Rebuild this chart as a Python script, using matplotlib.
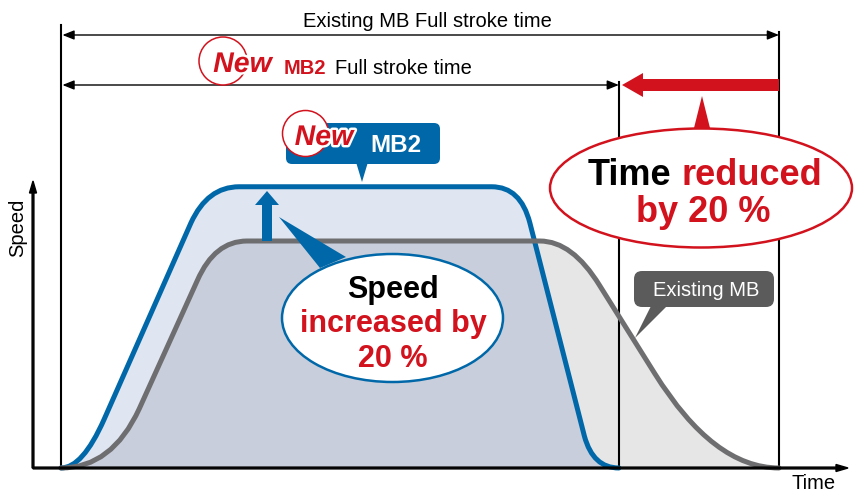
import matplotlib
matplotlib.use('Agg')
import matplotlib.pyplot as plt
import matplotlib.patches as mpatches
import matplotlib.transforms as mtransforms
import matplotlib.patheffects as pe
from matplotlib.path import Path

W, H, DPI = 856, 494, 100

# speed profiles, time in % of the existing full stroke, speed in % of existing max speed
# (vertices of a bezier path)
existing_t = [0, 7.1, 10.9, 19.0, 21.4, 25.9, 66.7, 71.2, 75.0, 82.7, 90.9, 100]
existing_s = [0, 0, 26.1, 82.7, 100, 100, 100, 100, 80.5, 41.6, 0, 0]
mb2_t = [0, 3.0, 6.0, 18.1, 20.4, 24.8, 60.0, 64.0, 65.3, 72.9, 74.1, 77.7]
mb2_s = [0, 0, 21.4, 108.0, 123.9, 123.9, 123.9, 123.9, 108.0, 14.0, 0, 0]
codes = [Path.MOVETO, Path.CURVE3, Path.CURVE3, Path.LINETO, Path.CURVE3, Path.CURVE3,
         Path.LINETO, Path.CURVE3, Path.CURVE3, Path.LINETO, Path.CURVE3, Path.CURVE3]

BLUE = '#0068a8'
RED = '#d2121d'
GREY_LINE = '#6e6e70'
plt.rcParams['font.family'] = ['Liberation Sans', 'DejaVu Sans']

fig = plt.figure(figsize=(W / DPI, H / DPI), dpi=DPI)
ax = fig.add_axes([0, 0, 1, 1])
# origin at pixel (61, 468), 7.18 px per time unit, 2.27 px per speed unit
ax.set_xlim(-61 / 7.18, (W - 61) / 7.18)
ax.set_ylim(-(H - 468) / 2.27, 468 / 2.27)
ax.axis('off')

# pixel coords (top-left origin) for the decorations
pix = mtransforms.Affine2D().scale(1 / DPI, -1 / DPI).translate(0, H / DPI) + fig.dpi_scale_trans
xpix = mtransforms.blended_transform_factory(ax.transData, pix)


def profile(t, s, closed=False):
    verts = list(zip(t, s))
    c = list(codes)
    if closed:
        verts.append(verts[0])
        c.append(Path.CLOSEPOLY)
    return Path(verts, c)


# fills
blue_fill = mpatches.PathPatch(profile(mb2_t, mb2_s, True), fc='#dfe5f1', ec='none', zorder=1)
ax.add_patch(blue_fill)
ax.add_patch(mpatches.PathPatch(profile(existing_t, existing_s, True), fc='#e6e6e6', ec='none', zorder=1.1))
both = mpatches.PathPatch(profile(existing_t, existing_s, True), fc='#c8cedb', ec='none', zorder=1.2)
ax.add_patch(both)
both.set_clip_path(blue_fill)

# curves
ax.add_patch(mpatches.PathPatch(profile(mb2_t, mb2_s), fc='none', ec=BLUE, lw=3.6,
                                capstyle='round', zorder=4))
ax.add_patch(mpatches.PathPatch(profile(existing_t, existing_s), fc='none', ec=GREY_LINE, lw=3.6,
                                capstyle='round', zorder=4.5))

# stroke end markers
ax.plot([0, 0], [25, 468], color='k', lw=1.5, transform=xpix, zorder=3)
ax.plot([mb2_t[-1]] * 2, [82, 468], color='k', lw=1.5, transform=xpix, zorder=3)
ax.plot([existing_t[-1]] * 2, [32, 468], color='k', lw=1.5, transform=xpix, zorder=3)

# axes arrows
ax.add_patch(mpatches.FancyArrow(33, 468, 0, -287, width=1.8, head_width=7, head_length=12,
                                 length_includes_head=True, color='k', transform=pix, zorder=5))
ax.add_patch(mpatches.FancyArrow(33, 468, 815, 0, width=1.8, head_width=7, head_length=12,
                                 length_includes_head=True, color='k', transform=pix, zorder=5))
ax.text(18, 228, 'Speed', transform=pix, rotation=90, ha='center', va='center', fontsize=14.5)
ax.text(813.5, 489, 'Time', transform=pix, ha='center', va='baseline', fontsize=14.5)

# dimension arrows
dim = dict(arrowstyle='<|-|>,head_length=0.5,head_width=0.2', lw=1, color='k',
           shrinkA=0, shrinkB=0, mutation_scale=14)
ax.annotate('', xy=(0.2, 35), xytext=(existing_t[-1], 35), xycoords=xpix, textcoords=xpix,
            arrowprops=dim, zorder=6)
ax.annotate('', xy=(0.2, 85), xytext=(mb2_t[-1], 85), xycoords=xpix, textcoords=xpix,
            arrowprops=dim, zorder=6)
ax.text(427.5, 27, 'Existing MB Full stroke time', transform=pix, ha='center', va='baseline',
        fontsize=14.5)

white_edge = [pe.withStroke(linewidth=3.5, foreground='white')]
ax.add_patch(mpatches.Circle((223, 61), 24, fc='white', ec=RED, lw=1.1, transform=pix, zorder=6))
ax.text(242.5, 72, 'New', transform=pix, ha='center', va='baseline', fontsize=20.5,
        fontweight='bold', fontstyle='italic', color=RED, path_effects=white_edge, zorder=7)
ax.text(284, 74, 'MB2', transform=pix, ha='left', va='baseline', fontsize=14.5,
        fontweight='bold', color=RED, zorder=7)
ax.text(335, 74, 'Full stroke time', transform=pix, ha='left', va='baseline', fontsize=14.5, zorder=7)

# time reduced arrow + callout
ax.add_patch(mpatches.FancyArrow(779, 85, -157, 0, width=12, head_width=24, head_length=21,
                                 length_includes_head=True, color=RED, lw=0, transform=pix, zorder=6))
ax.add_patch(mpatches.Polygon([(693, 132), (711, 132), (702, 96)], closed=True, fc=RED, ec='none',
                              transform=pix, zorder=6))
ax.add_patch(mpatches.Ellipse((701, 188), 302, 119, fc='white', ec=RED, lw=1.8, transform=pix, zorder=6.5))
ax.text(671, 185, 'Time', transform=pix, ha='right', va='baseline', fontsize=26,
        fontweight='bold', color='k', zorder=7)
ax.text(681, 185, 'reduced', transform=pix, ha='left', va='baseline', fontsize=26,
        fontweight='bold', color=RED, zorder=7)
ax.text(703, 222, 'by 20 %', transform=pix, ha='center', va='baseline', fontsize=26,
        fontweight='bold', color=RED, zorder=7)

# MB2 label
ax.add_patch(mpatches.FancyBboxPatch((286, 123), 154, 41, boxstyle='round,pad=0,rounding_size=6',
                                     fc=BLUE, ec='none', transform=pix, zorder=6))
ax.add_patch(mpatches.Polygon([(356, 162), (368, 162), (362, 182)], closed=True, fc=BLUE, ec='none',
                              transform=pix, zorder=6))
ax.add_patch(mpatches.Circle((305.5, 133.5), 23, fc='white', ec=RED, lw=1.1, transform=pix, zorder=6.5))
ax.text(324, 145, 'New', transform=pix, ha='center', va='baseline', fontsize=20.5,
        fontweight='bold', fontstyle='italic', color=RED, path_effects=white_edge, zorder=7)
ax.text(396, 152, 'MB2', transform=pix, ha='center', va='baseline', fontsize=17.5,
        fontweight='bold', color='white', zorder=7)

# speed increased arrow + callout
ax.add_patch(mpatches.FancyArrow(267, 241, 0, -50, width=10, head_width=24, head_length=14,
                                 length_includes_head=True, color=BLUE, lw=0, transform=pix, zorder=6))
ax.add_patch(mpatches.Polygon([(279, 217), (320, 268), (346, 257)], closed=True, fc=BLUE, ec='none',
                              transform=pix, zorder=6))
ax.add_patch(mpatches.Ellipse((392.5, 318), 221, 128, fc='white', ec=BLUE, lw=1.8, transform=pix, zorder=6.5))
ax.text(393, 298, 'Speed', transform=pix, ha='center', va='baseline', fontsize=22,
        fontweight='bold', color='k', zorder=7)
ax.text(393, 332, 'increased by', transform=pix, ha='center', va='baseline', fontsize=22,
        fontweight='bold', color=RED, zorder=7)
ax.text(393, 367, '20 %', transform=pix, ha='center', va='baseline', fontsize=22,
        fontweight='bold', color=RED, zorder=7)

# existing MB label
ax.add_patch(mpatches.FancyBboxPatch((634, 271), 140, 36, boxstyle='round,pad=0,rounding_size=8',
                                     fc='#5b5b5b', ec='none', transform=pix, zorder=6))
ax.add_patch(mpatches.Polygon([(651, 306), (667, 306), (635, 338)], closed=True, fc='#5b5b5b',
                              ec='none', transform=pix, zorder=6))
ax.text(706, 296, 'Existing MB', transform=pix, ha='center', va='baseline', fontsize=14.5,
        color='white', zorder=7)

fig.savefig('out.png', dpi=DPI)
